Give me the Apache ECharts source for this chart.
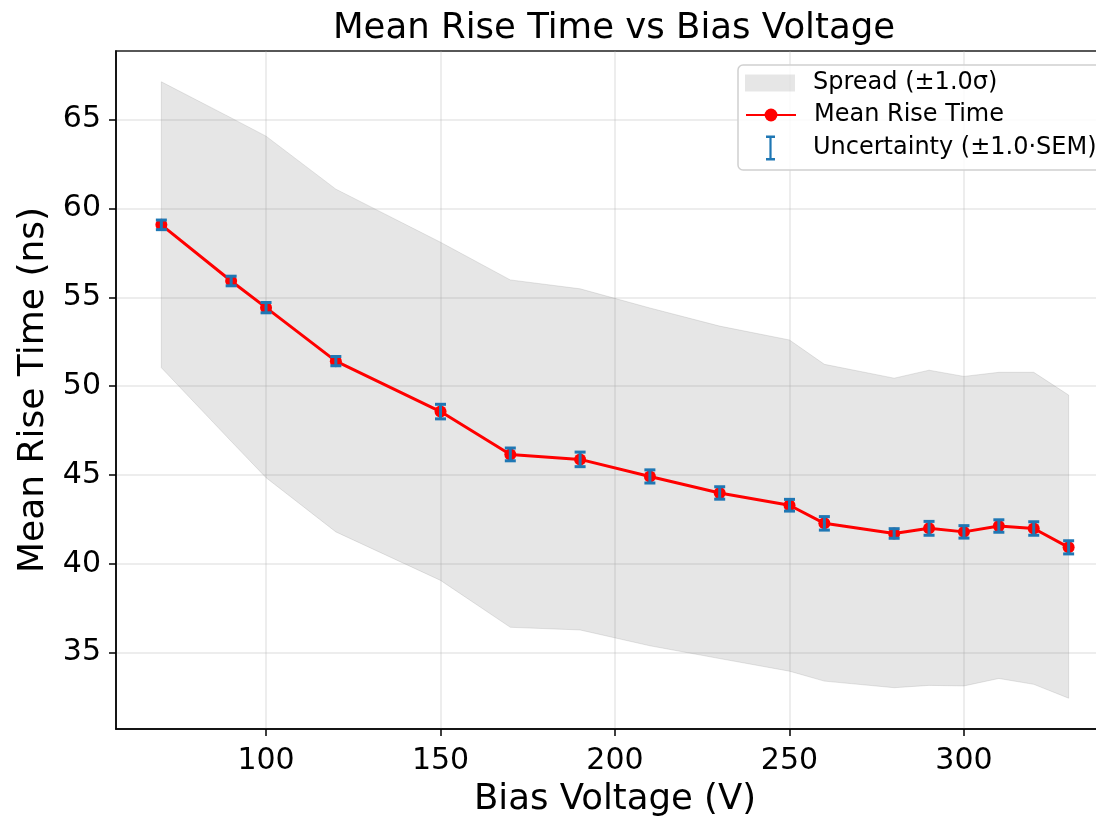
<!DOCTYPE html>
<html><head><meta charset="utf-8">
<script src="https://cdn.jsdelivr.net/npm/echarts@6/dist/echarts.min.js"></script>
<style>html,body{margin:0;padding:0;background:#fff;width:1096px;height:823px;overflow:hidden}#c{width:1130px;height:823px}</style>
</head><body><div id="c"></div>
<script>
// ---- data ----
const biasVoltage = [70, 90, 100, 120, 150, 170, 190, 210, 230, 250, 260, 280, 290, 300, 310, 320, 330];
const meanRiseTime = [59.08, 55.92, 54.42, 51.41, 48.57, 46.16, 45.88, 44.92, 43.99, 43.30, 42.28, 41.71, 42.00, 41.80, 42.13, 41.99, 40.93];
const semRiseTime = [0.27, 0.27, 0.29, 0.26, 0.41, 0.36, 0.41, 0.37, 0.35, 0.33, 0.38, 0.27, 0.39, 0.35, 0.35, 0.38, 0.37];
const spreadUpper = [67.13, 65.10, 64.07, 61.09, 58.10, 55.98, 55.48, 54.40, 53.38, 52.60, 51.23, 50.45, 50.90, 50.55, 50.78, 50.78, 49.50];
const spreadLower = [51.04, 46.90, 44.85, 41.80, 39.07, 36.43, 36.28, 35.39, 34.67, 33.96, 33.40, 33.03, 33.16, 33.13, 33.55, 33.22, 32.44];
const xTickStep = 50;
const yTickStep = 5;
const titleText = 'Mean Rise Time vs Bias Voltage';
const xName = 'Bias Voltage (V)';
const yName = 'Mean Rise Time (ns)';
const spreadName = 'Spread (±1.0σ)';
const meanName = 'Mean Rise Time';
const errName = 'Uncertainty (±1.0·SEM)';

const FONT = 'DejaVu Sans';
const TXT = '#000';
const chart = echarts.init(document.getElementById('c'), null, {renderer: 'canvas'});

const xLo = Math.min(...biasVoltage), xHi = Math.max(...biasVoltage);
const xPad = (xHi - xLo) * 0.05;
const yLo = Math.min(...spreadLower), yHi = Math.max(...spreadUpper);
const yPad = (yHi - yLo) * 0.05;

function stepFmt(step) {
  return function (v) {
    const r = v / step;
    return Math.abs(r - Math.round(r)) < 1e-6 ? String(Math.round(v)) : '';
  };
}

const gridLine = {show: true, lineStyle: {color: 'rgba(176,176,176,0.3)', width: 1.5}};
const axisLine = {show: true, lineStyle: {color: '#000', width: 1.5}};
const axisTick = {show: true, length: 7, lineStyle: {color: '#000', width: 1.5}};

function legendText(padLeft) {
  return {fontFamily: FONT, fontSize: 24, color: TXT, lineHeight: 26, padding: [0, 0, 0, padLeft]};
}

const option = {
  animation: false,
  backgroundColor: '#fff',
  title: {
    text: titleText, left: 614, top: 11, padding: 0, textAlign: 'center',
    textStyle: {fontFamily: FONT, fontSize: 35.5, fontWeight: 'normal', color: TXT}
  },
  grid: {left: 116, top: 51, width: 998, height: 686, show: true, borderColor: '#000', borderWidth: 1.5, backgroundColor: 'transparent', containLabel: false},
  xAxis: {
    type: 'value', min: xLo - xPad, max: xHi + xPad, splitNumber: 6,
    axisLine: axisLine, axisTick: axisTick, splitLine: gridLine,
    axisLabel: {fontFamily: FONT, fontSize: 30, color: TXT, margin: 17, formatter: stepFmt(xTickStep), showMinLabel: false, showMaxLabel: false},
    name: xName, nameLocation: 'middle', nameGap: 53,
    nameTextStyle: {fontFamily: FONT, fontSize: 35.5, color: TXT}
  },
  yAxis: {
    type: 'value', min: yLo - yPad, max: yHi + yPad, splitNumber: 8,
    axisLine: axisLine, axisTick: axisTick, splitLine: gridLine,
    axisLabel: {fontFamily: FONT, fontSize: 30, color: TXT, margin: 15, formatter: stepFmt(yTickStep), showMinLabel: false, showMaxLabel: false},
    name: yName, nameLocation: 'middle', nameGap: 62, nameRotate: 90,
    nameTextStyle: {fontFamily: FONT, fontSize: 36, color: TXT}
  },
  legend: [
    {data: [{name: spreadName, icon: 'rect'}], left: 745, top: 70, padding: 0, itemWidth: 50, itemHeight: 17, selectedMode: false, textStyle: legendText(13)},
    {data: [{name: meanName}], left: 745, top: 102, padding: 0, itemWidth: 50, itemHeight: 16, selectedMode: false, textStyle: legendText(13)},
    {data: [{name: errName, icon: 'path://M0,0 H9 V2.4 H5.6 V22.6 H9 V25 H0 V22.6 H3.4 V2.4 H0 Z'}], left: 766, top: 135, padding: 0, itemWidth: 9, itemHeight: 25, selectedMode: false, textStyle: legendText(33)}
  ],
  graphic: [{
    type: 'rect', z: 3, silent: true,
    shape: {x: 738, y: 65, width: 372, height: 105, r: 5},
    style: {fill: 'rgba(255,255,255,0.8)', stroke: '#d0d0d0', lineWidth: 1.5}
  }],
  series: [
    {
      type: 'custom', name: spreadName, coordinateSystem: 'cartesian2d', silent: true, z: 1,
      data: [[biasVoltage[0], spreadUpper[0]]],
      itemStyle: {color: 'rgba(128,128,128,0.2)'},
      renderItem: function (params, api) {
        const pts = [];
        for (let i = 0; i < biasVoltage.length; i++) pts.push(api.coord([biasVoltage[i], spreadUpper[i]]));
        for (let i = biasVoltage.length - 1; i >= 0; i--) pts.push(api.coord([biasVoltage[i], spreadLower[i]]));
        return {type: 'polygon', shape: {points: pts}, style: {fill: 'rgba(128,128,128,0.2)', stroke: 'rgba(128,128,128,0.2)', lineWidth: 1}};
      }
    },
    {
      type: 'line', name: meanName, z: 3,
      data: biasVoltage.map((x, i) => [x, meanRiseTime[i]]),
      symbol: 'circle', symbolSize: 12, showAllSymbol: true,
      lineStyle: {color: '#ff0000', width: 3},
      itemStyle: {color: '#ff0000'}
    },
    {
      type: 'custom', name: errName, coordinateSystem: 'cartesian2d', z: 4,
      data: biasVoltage.map((x, i) => [x, meanRiseTime[i] - semRiseTime[i], meanRiseTime[i] + semRiseTime[i]]),
      encode: {x: 0, y: [1, 2]},
      itemStyle: {color: '#1f77b4'},
      renderItem: function (params, api) {
        const x = api.value(0);
        const lo = api.coord([x, api.value(1)]);
        const hi = api.coord([x, api.value(2)]);
        const hw = 5.5, c = '#1f77b4';
        return {type: 'group', children: [
          {type: 'line', shape: {x1: lo[0], y1: lo[1], x2: hi[0], y2: hi[1]}, style: {stroke: c, lineWidth: 3}},
          {type: 'line', shape: {x1: lo[0] - hw, y1: lo[1], x2: lo[0] + hw, y2: lo[1]}, style: {stroke: c, lineWidth: 3}},
          {type: 'line', shape: {x1: hi[0] - hw, y1: hi[1], x2: hi[0] + hw, y2: hi[1]}, style: {stroke: c, lineWidth: 3}}
        ]};
      }
    }
  ]
};
chart.setOption(option);
</script></body></html>
